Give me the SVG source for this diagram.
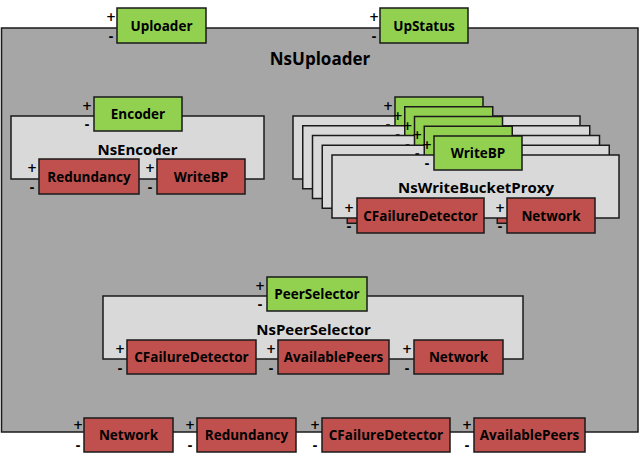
<svg xmlns="http://www.w3.org/2000/svg" width="640" height="459" viewBox="0 0 640 459">
<style>
.outer{fill:#a6a6a6;stroke:#1a1a1a;stroke-width:1.5}
.ghost{fill:#d9d9d9;stroke:#1a1a1a;stroke-width:1.5}
.g{fill:#92d050;stroke:#1a1a1a;stroke-width:1.5}
.r{fill:#c0504d;stroke:#1a1a1a;stroke-width:1.5}
.lbl{font-family:"Open Sans","Noto Sans",sans-serif;font-weight:bold;font-size:13.5px;fill:#000;text-anchor:middle;dominant-baseline:central}
.ttl{font-family:"Open Sans","Noto Sans",sans-serif;font-weight:bold;font-size:15px;fill:#000;text-anchor:middle;dominant-baseline:central}
.big{font-size:17px}
.pm{font-family:"DejaVu Sans",sans-serif;font-weight:bold;font-size:12px;fill:#000;text-anchor:middle;dominant-baseline:central}
</style>
<rect width="640" height="459" fill="#ffffff"/>
<g id="NsUploader">
<rect class="outer" x="1.5" y="28" width="636.5" height="404"/>
<text class="ttl big" x="320" y="58">NsUploader</text>
</g>
<g id="connectors"></g>
<g id="Uploader"><rect class="g" x="117" y="8" width="89" height="35"/><text class="lbl" x="161.5" y="25.5">Uploader</text><text class="pm" x="111" y="17">+</text><text class="pm" x="111" y="37">-</text></g>
<g id="UpStatus"><rect class="g" x="380" y="8" width="88" height="35"/><text class="lbl" x="424" y="25.5">UpStatus</text><text class="pm" x="374" y="17">+</text><text class="pm" x="374" y="37">-</text></g>

<g id="NsEncoder">
<rect class="ghost" x="11" y="116" width="253" height="63"/>
<text class="ttl" x="137.5" y="149">NsEncoder</text>
</g>
<g id="Encoder"><rect class="g" x="94" y="97" width="88" height="34"/><text class="lbl" x="138" y="114">Encoder</text><text class="pm" x="87" y="106">+</text><text class="pm" x="87" y="125">-</text></g>
<g id="NsEncoder-Redundancy"><rect class="r" x="39" y="159" width="100" height="35"/><text class="lbl" x="89" y="176.5">Redundancy</text><text class="pm" x="32" y="168">+</text><text class="pm" x="32" y="188">-</text></g>
<g id="NsEncoder-WriteBP"><rect class="r" x="157" y="159" width="88" height="35"/><text class="lbl" x="201" y="176.5">WriteBP</text><text class="pm" x="150" y="168">+</text><text class="pm" x="150" y="188">-</text></g>

<g id="NsWriteBucketProxy-stack">
<g id="NsWriteBucketProxy-1">
<rect class="ghost" x="293" y="116" width="287" height="63"/>
<rect class="r" x="318" y="159" width="127" height="35"/><rect class="r" x="468" y="159" width="88" height="35"/>
<rect class="g" x="395" y="97" width="88" height="34"/><text class="pm" x="388" y="106">+</text><text class="pm" x="388" y="125">-</text>
</g>
<g id="NsWriteBucketProxy-2">
<rect class="ghost" x="302.75" y="125.75" width="287" height="63"/>
<rect class="r" x="327.75" y="168.75" width="127" height="35"/><rect class="r" x="477.75" y="168.75" width="88" height="35"/>
<rect class="g" x="404.75" y="106.75" width="88" height="34"/><text class="pm" x="397.75" y="115.75">+</text><text class="pm" x="397.75" y="134.75">-</text>
</g>
<g id="NsWriteBucketProxy-3">
<rect class="ghost" x="312.5" y="135.5" width="287" height="63"/>
<rect class="r" x="337.5" y="178.5" width="127" height="35"/><rect class="r" x="487.5" y="178.5" width="88" height="35"/>
<rect class="g" x="414.5" y="116.5" width="88" height="34"/><text class="pm" x="407.5" y="125.5">+</text><text class="pm" x="407.5" y="144.5">-</text>
</g>
<g id="NsWriteBucketProxy-4">
<rect class="ghost" x="322.25" y="145.25" width="287" height="63"/>
<rect class="r" x="347.25" y="188.25" width="127" height="35"/><rect class="r" x="497.25" y="188.25" width="88" height="35"/>
<rect class="g" x="424.25" y="126.25" width="88" height="34"/><text class="pm" x="417.25" y="135.25">+</text><text class="pm" x="417.25" y="154.25">-</text>
</g>
<g id="NsWriteBucketProxy">
<rect class="ghost" x="332" y="155" width="287" height="63"/>
<text class="ttl" x="476" y="187">NsWriteBucketProxy</text>
</g>
<g id="WriteBP"><rect class="g" x="434" y="136" width="88" height="34"/><text class="lbl" x="478" y="153">WriteBP</text><text class="pm" x="427" y="145">+</text><text class="pm" x="427" y="164">-</text></g>
<g id="NsWriteBucketProxy-CFailureDetector"><rect class="r" x="357" y="198" width="127" height="35"/><text class="lbl" x="420.5" y="215.5">CFailureDetector</text><text class="pm" x="349" y="208">+</text><text class="pm" x="349" y="227">-</text></g>
<g id="NsWriteBucketProxy-Network"><rect class="r" x="507" y="198" width="88" height="35"/><text class="lbl" x="551" y="215.5">Network</text><text class="pm" x="500" y="208">+</text><text class="pm" x="500" y="227">-</text></g>
</g>

<g id="NsPeerSelector">
<rect class="ghost" x="103" y="296" width="420" height="63"/>
<text class="ttl" x="313.5" y="329">NsPeerSelector</text>
</g>
<g id="PeerSelector"><rect class="g" x="267" y="277" width="100" height="34"/><text class="lbl" x="317" y="294">PeerSelector</text><text class="pm" x="260" y="286">+</text><text class="pm" x="260" y="305">-</text></g>
<g id="NsPeerSelector-CFailureDetector"><rect class="r" x="127" y="340" width="129" height="34"/><text class="lbl" x="191.5" y="357">CFailureDetector</text><text class="pm" x="120" y="349">+</text><text class="pm" x="120" y="369">-</text></g>
<g id="NsPeerSelector-AvailablePeers"><rect class="r" x="278" y="340" width="111" height="34"/><text class="lbl" x="333.5" y="357">AvailablePeers</text><text class="pm" x="271" y="349">+</text><text class="pm" x="271" y="369">-</text></g>
<g id="NsPeerSelector-Network"><rect class="r" x="414" y="340" width="89" height="34"/><text class="lbl" x="458.5" y="357">Network</text><text class="pm" x="407" y="349">+</text><text class="pm" x="407" y="369">-</text></g>

<g id="Network"><rect class="r" x="84" y="418" width="89" height="34"/><text class="lbl" x="128.5" y="435">Network</text><text class="pm" x="78" y="425">+</text><text class="pm" x="78" y="446">-</text></g>
<g id="Redundancy"><rect class="r" x="197" y="418" width="99" height="34"/><text class="lbl" x="246.5" y="435">Redundancy</text><text class="pm" x="190" y="425">+</text><text class="pm" x="190" y="446">-</text></g>
<g id="CFailureDetector"><rect class="r" x="322" y="418" width="128" height="34"/><text class="lbl" x="386" y="435">CFailureDetector</text><text class="pm" x="315" y="425">+</text><text class="pm" x="315" y="446">-</text></g>
<g id="AvailablePeers"><rect class="r" x="474" y="418" width="111" height="34"/><text class="lbl" x="529.5" y="435">AvailablePeers</text><text class="pm" x="467" y="425">+</text><text class="pm" x="467" y="446">-</text></g>
</svg>
